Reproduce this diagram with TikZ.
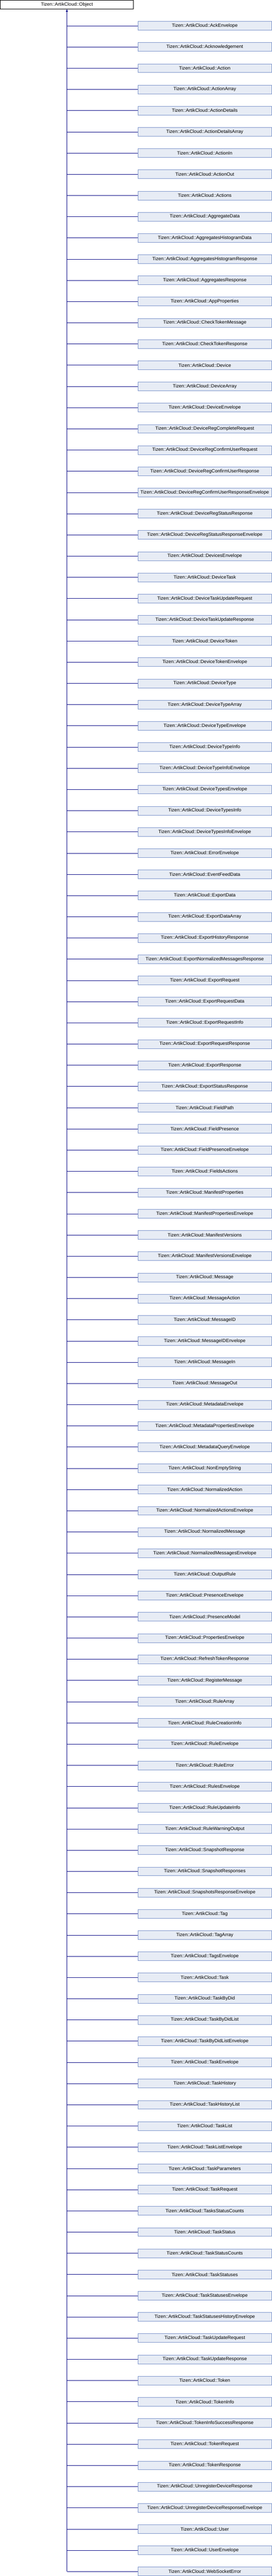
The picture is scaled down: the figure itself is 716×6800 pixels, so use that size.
\documentclass[tikz,border=0pt]{standalone}
\usepackage{fontspec}
\setmainfont{Liberation Sans}
\usetikzlibrary{arrows.meta}
\definecolor{boxfill}{HTML}{E7ECF5}
\definecolor{boxborder}{HTML}{7F96CC}
\definecolor{edgeblue}{HTML}{10108A}
\begin{document}
\begin{tikzpicture}[x=1pt,y=1pt,
  font=\fontsize{12.4}{14}\selectfont,
  cls/.style={draw=boxborder, fill=boxfill, line width=1pt, inner sep=0pt,
              minimum width=352pt, minimum height=23pt, anchor=center},
  rootcls/.style={draw=black, fill=white, line width=1pt, inner sep=0pt,
              minimum width=351.5pt, minimum height=23pt, anchor=center},
  edge/.style={draw=edgeblue, line width=1pt}]
\useasboundingbox (0,0) rectangle (716,-6800);
\node[rootcls] (root) at (176.25,-12) {Tizen::ArtikCloud::Object};
\foreach \n [count=\i from 0] in {AckEnvelope,Acknowledgement,Action,ActionArray,ActionDetails,ActionDetailsArray,ActionIn,ActionOut,Actions,AggregateData,AggregatesHistogramData,AggregatesHistogramResponse,AggregatesResponse,AppProperties,CheckTokenMessage,CheckTokenResponse,Device,DeviceArray,DeviceEnvelope,DeviceRegCompleteRequest,DeviceRegConfirmUserRequest,DeviceRegConfirmUserResponse,DeviceRegConfirmUserResponseEnvelope,DeviceRegStatusResponse,DeviceRegStatusResponseEnvelope,DevicesEnvelope,DeviceTask,DeviceTaskUpdateRequest,DeviceTaskUpdateResponse,DeviceToken,DeviceTokenEnvelope,DeviceType,DeviceTypeArray,DeviceTypeEnvelope,DeviceTypeInfo,DeviceTypeInfoEnvelope,DeviceTypesEnvelope,DeviceTypesInfo,DeviceTypesInfoEnvelope,ErrorEnvelope,EventFeedData,ExportData,ExportDataArray,ExportHistoryResponse,ExportNormalizedMessagesResponse,ExportRequest,ExportRequestData,ExportRequestInfo,ExportRequestResponse,ExportResponse,ExportStatusResponse,FieldPath,FieldPresence,FieldPresenceEnvelope,FieldsActions,ManifestProperties,ManifestPropertiesEnvelope,ManifestVersions,ManifestVersionsEnvelope,Message,MessageAction,MessageID,MessageIDEnvelope,MessageIn,MessageOut,MetadataEnvelope,MetadataPropertiesEnvelope,MetadataQueryEnvelope,NonEmptyString,NormalizedAction,NormalizedActionsEnvelope,NormalizedMessage,NormalizedMessagesEnvelope,OutputRule,PresenceEnvelope,PresenceModel,PropertiesEnvelope,RefreshTokenResponse,RegisterMessage,RuleArray,RuleCreationInfo,RuleEnvelope,RuleError,RulesEnvelope,RuleUpdateInfo,RuleWarningOutput,SnapshotResponse,SnapshotResponses,SnapshotsResponseEnvelope,Tag,TagArray,TagsEnvelope,Task,TaskByDid,TaskByDidList,TaskByDidListEnvelope,TaskEnvelope,TaskHistory,TaskHistoryList,TaskList,TaskListEnvelope,TaskParameters,TaskRequest,TasksStatusCounts,TaskStatus,TaskStatusCounts,TaskStatuses,TaskStatusesEnvelope,TaskStatusesHistoryEnvelope,TaskUpdateRequest,TaskUpdateResponse,Token,TokenInfo,TokenInfoSuccessResponse,TokenRequest,TokenResponse,UnregisterDeviceResponse,UnregisterDeviceResponseEnvelope,User,UserEnvelope,WebSocketError}{
  \node[cls] (c\i) at (539.5,{-(68+56*\i)}) {Tizen::ArtikCloud::\n};
  \draw[edge] (c\i.west) -- (c\i.west -| root.south);
}
\draw[edge,-{Triangle[width=5pt,length=7pt]}] (c120.west -| root.south) -- (root.south);
\end{tikzpicture}
\end{document}
